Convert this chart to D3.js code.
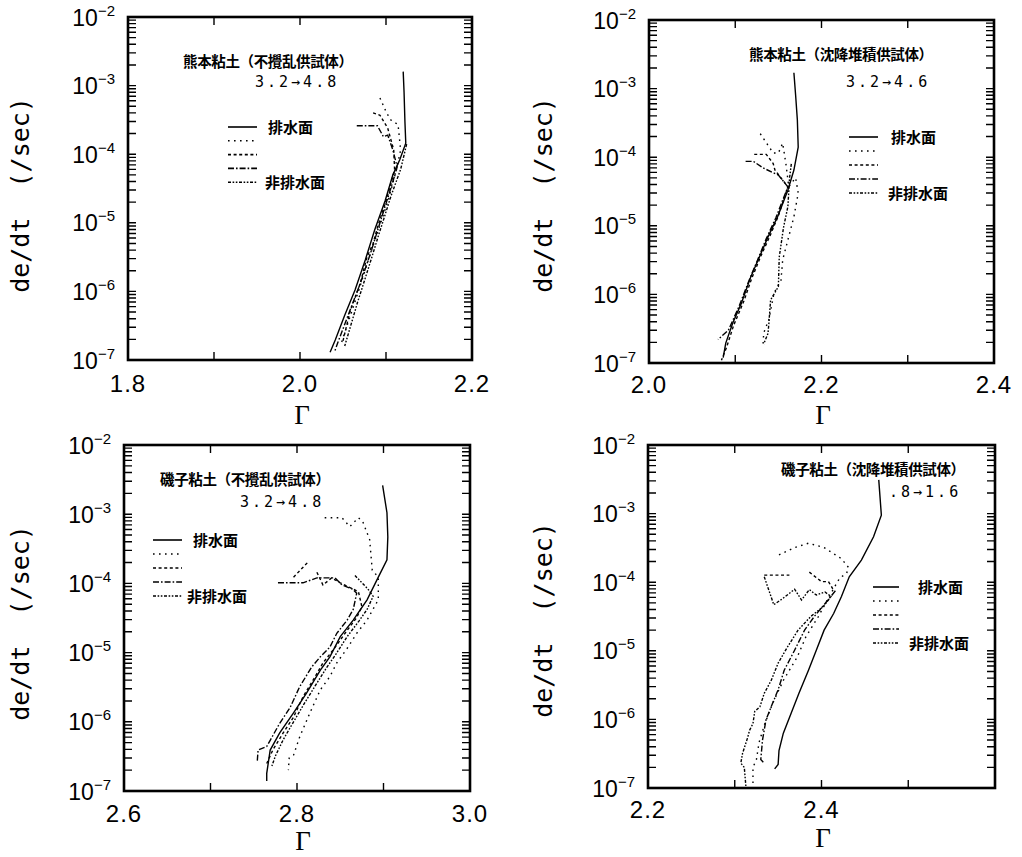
<!DOCTYPE html>
<html>
<head>
<meta charset="utf-8">
<script src="https://cdn.jsdelivr.net/npm/d3@7"></script>
<style>
body { margin: 0; background: #fff; }
</style>
</head>
<body>
<svg id="fig" width="1022" height="857"></svg>
<script>
// every point is [Gamma, de/dt (1/sec)], null = gap in the curve

// 熊本粘土 (不攪乱供試体)
const p1Drain = [[2.120,1.6e-3],[2.121,8e-4],[2.122,3e-4],[2.123,1.45e-4],[2.116,8.3e-5],[2.108,5e-5],[2.099,2.1e-5],[2.087,8e-6],[2.076,2.9e-6],[2.064,1.05e-6],[2.052,4.5e-7],[2.041,1.95e-7],[2.035,1.3e-7]];
const p1Dot = [[2.093,6.6e-4],[2.100,4.2e-4],[2.105,3.2e-4],[2.114,2.7e-4],[2.117,1.15e-4],[2.112,5.9e-5],[2.103,2.2e-5],[2.092,8.5e-6],[2.080,3e-6],[2.069,1.1e-6],[2.060,5e-7],[2.052,2.5e-7],[2.047,1.6e-7]];
const p1Dash = [[2.085,4e-4],[2.093,3.7e-4],[2.102,2.4e-4],[2.109,1.15e-4],[2.110,5.9e-5],[2.101,2.3e-5],[2.090,8.5e-6],[2.085,5e-6],[2.078,3.2e-6],[2.070,1.3e-6],[2.058,5e-7],[2.050,1.9e-7]];
const p1DashDot = [[2.066,2.6e-4],[2.090,2.6e-4],[2.097,1.8e-4],[2.102,1.9e-4],[2.108,1.15e-4],[2.113,6.5e-5],[2.105,3e-5],[2.094,1.1e-5],[2.082,3.6e-6],[2.070,1.3e-6],[2.056,4.5e-7],[2.044,1.8e-7],[2.040,1.3e-7]];
const p1Undrain = [[2.124,1.4e-4],[2.117,6e-5],[2.106,2.5e-5],[2.096,1e-5],[2.092,7e-6],[2.083,3e-6],[2.073,1.2e-6],[2.067,7e-7],[2.060,3.5e-7],[2.052,1.6e-7]];

// 熊本粘土 (沈降堆積供試体)
const p2Drain = [[2.168,1.7e-3],[2.170,8e-4],[2.172,3.5e-4],[2.173,1.4e-4],[2.168,6.5e-5],[2.161,3.3e-5],[2.149,1.35e-5],[2.138,6.9e-6],[2.128,3.5e-6],[2.118,1.8e-6],[2.107,7.4e-7],[2.097,3.8e-7],[2.089,1.95e-7],[2.086,1.2e-7]];
const p2Dot = [[2.129,2.2e-4],[2.144,1.15e-4],[2.150,1.15e-4],[2.155,1.6e-4],[2.159,7.6e-5],[2.162,3.7e-5],[2.170,5e-5],[2.173,3e-5],[2.168,1.35e-5],[2.161,6.2e-6],[2.155,3.2e-6],[2.153,1.6e-6],[2.145,1.05e-6],[2.139,4.3e-7],[2.133,2.75e-7],[2.132,1.65e-7]];
const p2Dash = [[2.122,1.1e-4],[2.136,1.1e-4],[2.144,8.1e-5],[2.146,6.5e-5],[2.161,3.7e-5],[2.150,1.4e-5],[2.140,7e-6],[2.130,3.7e-6],[2.119,1.7e-6],[2.110,8e-7],[2.098,3.5e-7],[2.090,1.7e-7],[2.084,1.1e-7]];
const p2DashDot = [[2.112,8.7e-5],[2.121,8.7e-5],[2.133,6.9e-5],[2.150,5.5e-5],[2.161,3.7e-5],[2.147,1.3e-5],[2.136,6.5e-6],[2.126,3.2e-6],[2.116,1.6e-6],[2.104,6.5e-7],[2.092,3e-7],[2.080,2.2e-7]];
const p2Undrain = [[2.165,8e-5],[2.163,5e-5],[2.161,1.9e-5],[2.156,9.5e-6],[2.151,3.5e-6],[2.150,1.3e-6],[2.141,8.3e-7],[2.139,3.8e-7],[2.138,2.7e-7],[2.133,1.9e-7]];

// 磯子粘土 (不攪乱供試体)
const p3Drain = [[2.899,2.6e-3],[2.904,1.05e-3],[2.905,4.7e-4],[2.904,2.2e-4],[2.894,1.23e-4],[2.881,5.8e-5],[2.865,2.95e-5],[2.850,1.7e-5],[2.838,8.7e-6],[2.827,5.6e-6],[2.811,2.6e-6],[2.796,1.35e-6],[2.780,6.9e-7],[2.769,3.9e-7],[2.765,1.8e-7],[2.765,1.4e-7]];
const p3Dot = [[2.832,8.9e-4],[2.852,8.9e-4],[2.861,6.6e-4],[2.871,8.9e-4],[2.876,7.8e-4],[2.884,4.3e-4],[2.887,1.55e-4],[2.894,1.23e-4],[2.894,5.8e-5],[2.881,2.95e-5],[2.869,1.9e-5],[2.859,1.2e-5],[2.846,7.1e-6],[2.838,4.5e-6],[2.827,2.9e-6],[2.815,1.35e-6],[2.803,6e-7],[2.796,3.3e-7],[2.791,3e-7],[2.790,2e-7]];
const p3Dash = [[2.796,1.23e-4],[2.813,2.05e-4],null,[2.823,1.45e-4],[2.830,9.5e-5],[2.840,1.2e-4],[2.850,1.02e-4],[2.871,7.6e-5],[2.875,4.6e-5],[2.869,3.2e-5],[2.858,2.1e-5],[2.842,1.1e-5],[2.830,7.1e-6],[2.821,4.5e-6],[2.807,2.3e-6],[2.796,1.17e-6],[2.784,6.9e-7],[2.772,3.9e-7],[2.765,2.5e-7]];
const p3DashDot = [[2.778,1.02e-4],[2.807,1.02e-4],[2.823,1.2e-4],[2.844,1.2e-4],[2.852,9.5e-5],[2.864,8.3e-5],[2.869,7.2e-5],[2.865,4.2e-5],[2.858,2.95e-5],[2.846,1.9e-5],[2.838,1.2e-5],[2.827,8.7e-6],[2.817,6.2e-6],[2.803,3.2e-6],[2.792,1.6e-6],[2.780,9.5e-7],[2.769,5.4e-7],[2.765,4.4e-7],[2.755,3.9e-7],[2.754,2.6e-7]];
const p3Undrain = [[2.867,1.3e-4],[2.882,8.3e-5],[2.888,6.5e-5],[2.881,4.2e-5],[2.872,2.9e-5],[2.858,1.7e-5],[2.845,9.5e-6],[2.834,6e-6],[2.821,3.3e-6],[2.808,1.8e-6],[2.795,9.5e-7],[2.784,5.5e-7],[2.775,3.2e-7],[2.771,2.3e-7]];

// 磯子粘土 (沈降堆積供試体)
const p4Drain = [[2.466,3.1e-3],[2.469,9.5e-4],[2.460,4.6e-4],[2.446,2.1e-4],[2.432,1.2e-4],[2.423,6.2e-5],[2.414,3.5e-5],[2.403,2e-5],[2.394,1.02e-5],[2.385,5.2e-6],[2.374,2.4e-6],[2.365,1.23e-6],[2.356,6.3e-7],[2.351,3.5e-7],[2.350,2.2e-7],[2.346,1.9e-7]];
const p4Dot = [[2.351,2.5e-4],[2.369,3.2e-4],[2.385,3.7e-4],[2.403,3.2e-4],[2.423,2.2e-4],[2.431,1.65e-4],[2.429,1.35e-4],[2.421,1.15e-4],[2.415,8.5e-5],[2.408,5.9e-5],[2.396,3.1e-5],[2.382,1.6e-5],[2.372,8.1e-6],[2.356,3.7e-6],[2.344,1.75e-6],[2.335,8.9e-7],[2.328,4.6e-7],[2.325,2.6e-7],[2.321,2e-7],[2.321,1e-7]];
const p4Dash = [[2.334,1.27e-4],[2.363,1.27e-4],null,[2.386,1.4e-4],[2.400,1.02e-4],[2.408,1.02e-4],[2.413,8e-5]];
const p4DashDot = [[2.416,7.5e-5],[2.4075,5.5e-5],[2.392,3.2e-5],[2.3805,2e-5],[2.369,1.02e-5],[2.357,5.2e-6],[2.350,2.7e-6],[2.342,1.53e-6],[2.336,9.8e-7],[2.332,5e-7],[2.330,2.6e-7],[2.334,2.3e-7]];
const p4Undrain = [[2.334,1.2e-4],[2.345,4.7e-5],[2.3555,5.8e-5],[2.369,7.9e-5],[2.377,5.5e-5],[2.386,7.8e-5],[2.394,6.5e-5],[2.404,7.2e-5],[2.411,6.2e-5],[2.402,4.4e-5],[2.388,3.2e-5],[2.373,2e-5],[2.361,1.15e-5],[2.350,6.6e-6],[2.342,3.7e-6],[2.334,2.4e-6],[2.329,1.53e-6],[2.323,1.3e-6],[2.321,8.7e-7],[2.317,6.9e-7],[2.315,5.5e-7],[2.309,3.2e-7],[2.307,2.3e-7],[2.311,2e-7],[2.313,1e-7]];

const panelTitles = ["熊本粘土（不攪乱供試体）", "熊本粘土（沈降堆積供試体）", "磯子粘土（不攪乱供試体）", "磯子粘土（沈降堆積供試体）"];
const stepLabels = ["3.2→4.8", "3.2→4.6", "3.2→4.8", ".8→1.6"];
const xTickValues = [[1.8, 2.0, 2.2], [2.0, 2.2, 2.4], [2.6, 2.8, 3.0], [2.2, 2.4]];
const xDomains = [[1.8, 2.2], [2.0, 2.4], [2.6, 3.0], [2.2, 2.6]];
const decades = [-7, -6, -5, -4, -3, -2];
const legendNames = ["排水面", "", "", "", "非排水面"];
const lineDashes = [null, "1.6,4.4", "3,2.6", "6,2,1.6,2", "3,1.6,1.6,1.6,1.6,1.6"];

// layout of each panel (pixels)
const panels = [
  { frame: [128, 17, 472, 360], title: [183, 67], step: [255, 87], leg: [228, 257, 127, 13.8, 268, 265],
    ylab: [20, 195], xlabY: 392, gam: [302, 424],
    curves: [p1Drain, p1Dot, p1Dash, p1DashDot, p1Undrain] },
  { frame: [649, 20, 994, 363], title: [749, 60], step: [846, 87], leg: [849, 878, 137, 14, 891, 888],
    ylab: [543, 195], xlabY: 393, gam: [823, 424],
    curves: [p2Drain, p2Dot, p2Dash, p2DashDot, p2Undrain] },
  { frame: [124, 445, 470, 791], title: [160, 485], step: [240, 507], leg: [153, 182, 540, 14, 193, 187],
    ylab: [20, 623], xlabY: 822, gam: [303, 850],
    curves: [p3Drain, p3Dot, p3Dash, p3DashDot, p3Undrain] },
  { frame: [648, 445, 995, 788], title: [781, 475], step: [889, 497], leg: [873, 899, 587, 14, 918, 909],
    ylab: [543, 620], xlabY: 818, gam: [823, 847],
    curves: [p4Drain, p4Dot, p4Dash, p4DashDot, p4Undrain] }
];

const svg = d3.select("#fig");
const defs = svg.append("defs");

panels.forEach((p, i) => {
  const [fx0, fy0, fx1, fy1] = p.frame;
  const x = d3.scaleLinear().domain(xDomains[i]).range([fx0, fx1]);
  const y = d3.scaleLog().domain([1e-7, 1e-2]).range([fy1, fy0]);
  const g = svg.append("g");

  defs.append("clipPath").attr("id", "clip" + i)
    .append("rect").attr("x", fx0).attr("y", fy0).attr("width", fx1 - fx0).attr("height", fy1 - fy0);

  // frame
  g.append("rect")
    .attr("x", fx0).attr("y", fy0).attr("width", fx1 - fx0).attr("height", fy1 - fy0)
    .attr("fill", "none").attr("stroke", "#000").attr("stroke-width", 2.6);

  // inward ticks: every 0.1 on top and bottom, log ticks (1..9 per decade) on both sides
  const xt = d3.range(Math.round(xDomains[i][0] * 10), Math.round(xDomains[i][1] * 10) + 1).map(v => v / 10);
  const yt = [];
  decades.forEach(e => { for (let m = 1; m < 10; m++) if (e < -2 || m === 1) yt.push(m * Math.pow(10, e)); });
  let tp = "";
  xt.forEach(v => {
    tp += `M${x(v)},${fy1}V${fy1 - 8}M${x(v)},${fy0}V${fy0 + 8}`;
  });
  yt.forEach(v => {
    tp += `M${fx0},${y(v)}H${fx0 + 8}M${fx1},${y(v)}H${fx1 - 8}`;
  });
  g.append("path").attr("d", tp).attr("fill", "none").attr("stroke", "#000").attr("stroke-width", 1.4);

  // curves
  const curve = d3.line().defined(d => d).x(d => x(d[0])).y(d => y(d[1]));
  p.curves.forEach((c, k) => {
    g.append("path")
      .attr("d", curve(c))
      .attr("clip-path", `url(#clip${i})`)
      .attr("fill", "none")
      .attr("stroke", "#000")
      .attr("stroke-width", 1.4)
      .attr("stroke-dasharray", lineDashes[k]);
  });

  // y tick labels 10^n
  decades.forEach(e => {
    const t = g.append("text")
      .attr("x", fx0 - 13).attr("y", y(Math.pow(10, e)) + 8.5)
      .attr("text-anchor", "end")
      .attr("font-family", "Liberation Sans, Arial, sans-serif")
      .attr("font-size", 23);
    t.append("tspan").text("10");
    t.append("tspan").attr("font-size", 15).attr("dy", -10).text("−" + (-e));
  });

  // x tick labels
  xTickValues[i].forEach(v => {
    g.append("text")
      .attr("x", x(v)).attr("y", p.xlabY)
      .attr("text-anchor", "middle")
      .attr("font-family", "Liberation Sans, Arial, sans-serif")
      .attr("font-size", 24)
      .attr("letter-spacing", 1)
      .text(v.toFixed(1));
  });

  // axis titles
  g.append("text")
    .attr("transform", `translate(${p.ylab[0]},${p.ylab[1]}) rotate(-90)`)
    .attr("text-anchor", "middle").attr("dominant-baseline", "central")
    .attr("font-family", "DejaVu Sans Mono, monospace")
    .attr("font-size", 25)
    .style("white-space", "pre")
    .text("de/dt  (/sec)");
  g.append("text")
    .attr("x", p.gam[0]).attr("y", p.gam[1])
    .attr("text-anchor", "middle")
    .attr("font-family", "Liberation Serif, serif")
    .attr("font-size", 27)
    .text("Γ");

  // panel notes
  g.append("text")
    .attr("x", p.title[0]).attr("y", p.title[1])
    .attr("font-family", "Noto Sans CJK JP, sans-serif")
    .attr("font-weight", "bold")
    .attr("font-size", 14.5)
    .attr("textLength", i % 2 ? 184 : 170)
    .text(panelTitles[i]);
  g.append("text")
    .attr("x", p.step[0]).attr("y", p.step[1])
    .attr("font-family", "DejaVu Sans Mono, monospace")
    .attr("font-size", 15)
    .attr("letter-spacing", 3)
    .text(stepLabels[i]);

  // legend
  const [lx0, lx1, ly, ldy, t1, t5] = p.leg;
  lineDashes.forEach((d, k) => {
    const yy = ly + k * ldy;
    g.append("line")
      .attr("x1", lx0).attr("x2", lx1).attr("y1", yy).attr("y2", yy)
      .attr("stroke", "#000").attr("stroke-width", 1.6)
      .attr("stroke-dasharray", d);
    if (legendNames[k]) {
      g.append("text")
        .attr("x", k === 0 ? t1 : t5).attr("y", yy + 5.5)
        .attr("font-family", "Noto Sans CJK JP, sans-serif")
        .attr("font-weight", "bold")
        .attr("font-size", 15)
        .text(legendNames[k]);
    }
  });
});
</script>
</body>
</html>
